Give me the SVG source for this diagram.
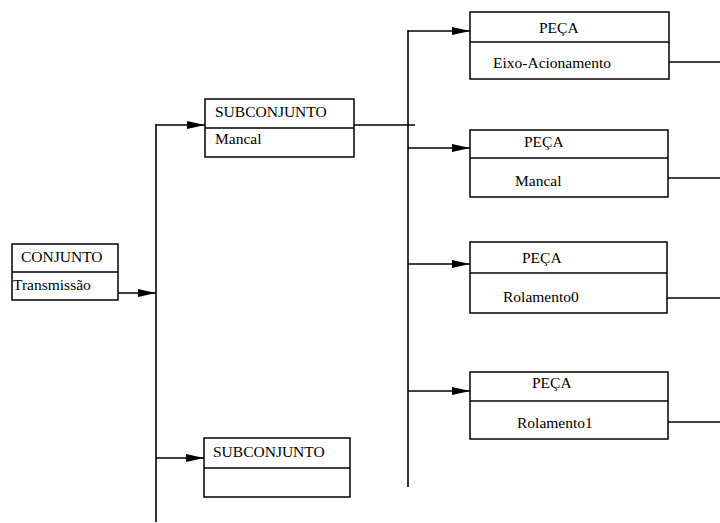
<svg xmlns="http://www.w3.org/2000/svg" width="720" height="523" viewBox="0 0 720 523">
  <style>
    .box { fill: #fff; stroke: #000; stroke-width: 1.5; }
    .div { stroke: #000; stroke-width: 1.5; }
    .lbl { font-family: 'Liberation Serif', 'DejaVu Serif', serif; font-size: 15.5px; fill: #000; }
    .wire { fill: none; stroke: #000; stroke-width: 1.6; }
  </style>
  <defs>
    <marker id="arrow" markerWidth="18" markerHeight="8" refX="18" refY="4" orient="auto" markerUnits="userSpaceOnUse">
      <path d="M0,0 L18,4 L0,8 Z" fill="#000"/>
    </marker>
  </defs>
  <rect width="720" height="523" fill="#fff"/>

  <g id="connectors">
    <!-- conjunto to subconjunto bus -->
    <line class="wire" x1="118" y1="293" x2="156" y2="293" marker-end="url(#arrow)"/>
    <line class="wire" x1="156" y1="124" x2="156" y2="522"/>
    <line class="wire" x1="156" y1="125" x2="205" y2="125" marker-end="url(#arrow)"/>
    <line class="wire" x1="156" y1="458" x2="204" y2="458" marker-end="url(#arrow)"/>
    <!-- subconjunto to peca bus -->
    <line class="wire" x1="354" y1="125" x2="415" y2="125"/>
    <line class="wire" x1="408" y1="30" x2="408" y2="487"/>
    <line class="wire" x1="408" y1="31" x2="470" y2="31" marker-end="url(#arrow)"/>
    <line class="wire" x1="408" y1="148" x2="470" y2="148" marker-end="url(#arrow)"/>
    <line class="wire" x1="408" y1="264" x2="470" y2="264" marker-end="url(#arrow)"/>
    <line class="wire" x1="408" y1="391" x2="470" y2="391" marker-end="url(#arrow)"/>
    <!-- outgoing peca lines -->
    <line class="wire" x1="669" y1="62" x2="720" y2="62"/>
    <line class="wire" x1="668" y1="178" x2="720" y2="178"/>
    <line class="wire" x1="667" y1="298" x2="720" y2="298"/>
    <line class="wire" x1="668" y1="422" x2="720" y2="422"/>
  </g>

  <g id="conjunto">
    <rect class="box" x="12" y="244" width="106" height="56"/>
    <line class="div" x1="12" y1="272" x2="118" y2="272"/>
    <text class="lbl" x="21" y="262">CONJUNTO</text>
    <text class="lbl" x="13" y="290">Transmissão</text>
  </g>

  <g id="subconjunto-mancal">
    <rect class="box" x="205" y="99" width="149" height="58"/>
    <line class="div" x1="205" y1="128" x2="354" y2="128"/>
    <text class="lbl" x="215" y="117">SUBCONJUNTO</text>
    <text class="lbl" x="215" y="144">Mancal</text>
  </g>

  <g id="subconjunto-2">
    <rect class="box" x="204" y="438" width="146" height="59"/>
    <line class="div" x1="204" y1="468" x2="350" y2="468"/>
    <text class="lbl" x="213" y="457">SUBCONJUNTO</text>
  </g>

  <g id="peca-eixo">
    <rect class="box" x="470" y="12" width="199" height="67"/>
    <line class="div" x1="470" y1="42" x2="669" y2="42"/>
    <text class="lbl" x="539" y="33">PEÇA</text>
    <text class="lbl" x="493" y="68">Eixo-Acionamento</text>
  </g>

  <g id="peca-mancal">
    <rect class="box" x="470" y="130" width="198" height="67"/>
    <line class="div" x1="470" y1="158" x2="668" y2="158"/>
    <text class="lbl" x="524" y="147">PEÇA</text>
    <text class="lbl" x="515" y="186">Mancal</text>
  </g>

  <g id="peca-rolamento0">
    <rect class="box" x="470" y="242" width="197" height="71"/>
    <line class="div" x1="470" y1="273" x2="667" y2="273"/>
    <text class="lbl" x="522" y="263">PEÇA</text>
    <text class="lbl" x="503" y="302">Rolamento0</text>
  </g>

  <g id="peca-rolamento1">
    <rect class="box" x="470" y="372" width="198" height="67"/>
    <line class="div" x1="470" y1="401" x2="668" y2="401"/>
    <text class="lbl" x="532" y="388">PEÇA</text>
    <text class="lbl" x="517" y="428">Rolamento1</text>
  </g>
</svg>
